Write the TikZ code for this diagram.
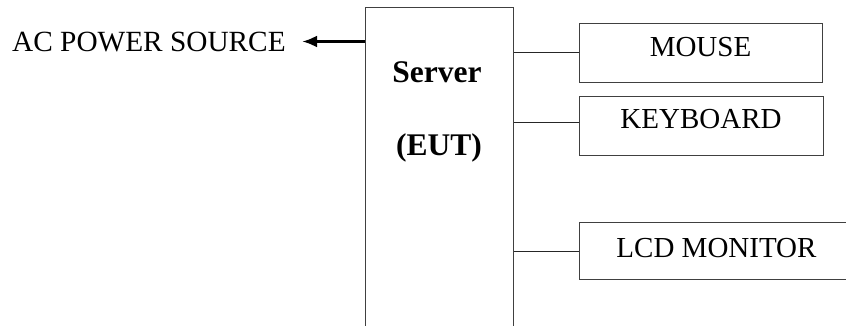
\documentclass[tikz,border=0pt]{standalone}
\usepackage{fontspec}
\setmainfont{Liberation Serif}
\usetikzlibrary{arrows.meta}
\begin{document}
\begin{tikzpicture}[x=1pt,y=-1pt,
  box/.style={draw=black!75,line width=1pt,rectangle,inner sep=0pt,anchor=north west},
  lbl/.style={font=\fontsize{29}{34}\selectfont,inner sep=0pt,anchor=base},
  blbl/.style={font=\fontsize{31.5}{36}\selectfont\bfseries,inner sep=0pt,anchor=base},
  wire/.style={draw=black!85,line width=1pt},
  pwr/.style={draw=black,line width=3pt,-{Latex[length=15pt,width=12pt]}}]
\useasboundingbox (0,0) rectangle (846,326);
\node[box,minimum width=148pt,minimum height=340pt] (server) at (365,7.5) {};
\node[box,minimum width=243pt,minimum height=59pt] (mouse) at (579,23) {};
\node[box,minimum width=244pt,minimum height=59pt] (keyboard) at (579,96) {};
\node[box,minimum width=290pt,minimum height=57pt] (lcd) at (579,222) {};
\node[blbl] (srv) at (437,83) {Server};
\node[blbl] (eut) at (439,156) {(EUT)};
\node[lbl] (mtxt) at (700.5,57) {MOUSE};
\node[lbl] (ktxt) at (701,129) {KEYBOARD};
\node[lbl] (ltxt) at (716.5,257) {LCD MONITOR};
\node[lbl,anchor=base west,font=\fontsize{29.3}{34}\selectfont] (ac) at (12,52) {AC POWER SOURCE};
\coordinate (actip) at (302,41.5);
\draw[pwr] (server.west |- actip) -- (actip);
\draw[wire] (server.east |- mouse.west) -- (mouse.west);
\draw[wire] (server.east |- 0,123) -- (keyboard.west |- 0,123);
\draw[wire] (server.east |- lcd.west) -- (lcd.west);
\end{tikzpicture}
\end{document}
